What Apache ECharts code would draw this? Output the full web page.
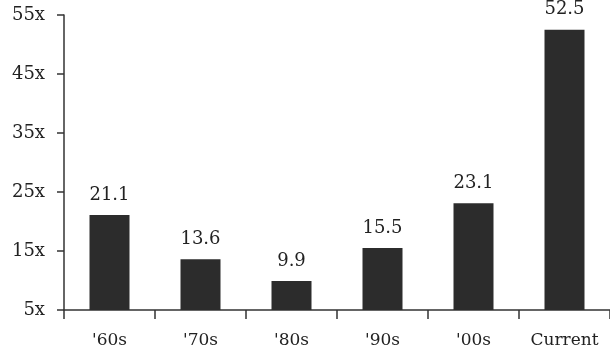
<!DOCTYPE html>
<html>
<head>
<meta charset="utf-8">
<script src="https://cdn.jsdelivr.net/npm/echarts@6/dist/echarts.min.js"></script>
<style>
  html, body { margin: 0; padding: 0; background: #fff; }
  #chart { width: 610px; height: 358px; }
</style>
</head>
<body>
<div id="chart"></div>
<script>
// Decades and their average multiples
const categories = ["'60s", "'70s", "'80s", "'90s", "'00s", "Current"];
const multiples = [21.1, 13.6, 9.9, 15.5, 23.1, 52.5];

// Value axis range and step
const axisMin = 5;
const axisMax = 55;
const axisStep = 10;

const ink = '#222222';
const serif = '"DejaVu Serif", Georgia, serif';

const chart = echarts.init(document.getElementById('chart'), null, { renderer: 'canvas' });

chart.setOption({
  animation: false,
  backgroundColor: '#ffffff',
  grid: { left: 64, top: 15, width: 548, height: 295, containLabel: false },
  xAxis: {
    type: 'category',
    data: categories,
    axisLine: { lineStyle: { color: '#333333', width: 1.5 } },
    axisTick: { show: true, length: 9, alignWithLabel: false, lineStyle: { color: '#333333', width: 1.5 } },
    axisLabel: { color: ink, fontFamily: serif, fontSize: 17, margin: 22 }
  },
  yAxis: {
    type: 'value',
    min: axisMin,
    max: axisMax,
    interval: axisStep,
    splitLine: { show: false },
    axisLine: { show: true, lineStyle: { color: '#333333', width: 1.5 } },
    axisTick: { show: true, length: 7, lineStyle: { color: '#333333', width: 1.5 } },
    axisLabel: {
      color: ink, fontFamily: serif, fontSize: 18, margin: 19,
      formatter: v => v + 'x'
    }
  },
  series: [{
    type: 'bar',
    data: multiples,
    barWidth: 40,
    clip: true,
    itemStyle: { color: '#2c2c2c' },
    label: {
      show: true,
      position: 'top',
      distance: 11,
      color: ink,
      fontFamily: serif,
      fontSize: 18,
      formatter: p => p.value.toFixed(1)
    }
  }]
});
</script>
</body>
</html>
